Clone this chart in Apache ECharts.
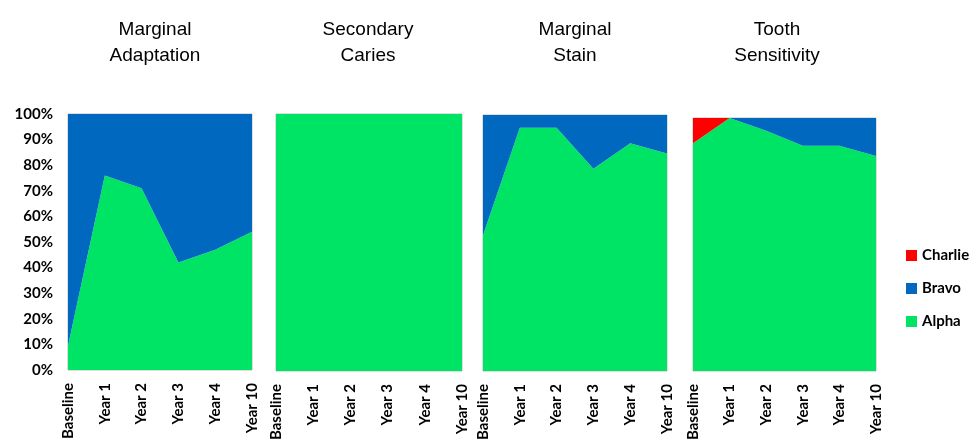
<!DOCTYPE html>
<html>
<head>
<meta charset="utf-8">
<script src="https://cdn.jsdelivr.net/npm/echarts@6/dist/echarts.min.js"></script>
<style>
  html, body { margin: 0; padding: 0; background: #fff; }
  #chart { width: 973px; height: 443px; }
</style>
</head>
<body>
<div id="chart"></div>
<script>
// Follow-up visits shown on every panel
const categories = ['Baseline', 'Year 1', 'Year 2', 'Year 3', 'Year 4', 'Year 10'];
const yTicks = [0, 10, 20, 30, 40, 50, 60, 70, 80, 90, 100];

const panelTitles = ['Marginal\nAdaptation', 'Secondary\nCaries', 'Marginal\nStain', 'Tooth\nSensitivity'];

// Percentage of restorations rated Alpha / Bravo / Charlie
const adaptationAlpha   = [9.5, 76, 71, 42, 47, 54];
const adaptationBravo   = [90.5, 24, 29, 58, 53, 46];
const adaptationCharlie = [0, 0, 0, 0, 0, 0];

const cariesAlpha   = [100, 100, 100, 100, 100, 100];
const cariesBravo   = [0, 0, 0, 0, 0, 0];
const cariesCharlie = [0, 0, 0, 0, 0, 0];

const stainAlpha   = [53, 95, 95, 79, 89, 85];
const stainBravo   = [47, 5, 5, 21, 11, 15];
const stainCharlie = [0, 0, 0, 0, 0, 0];

const sensitivityAlpha   = [90, 100, 95, 89, 89, 85];
const sensitivityBravo   = [0, 0, 5, 11, 11, 15];
const sensitivityCharlie = [10, 0, 0, 0, 0, 0];

const panels = [
  { alpha: adaptationAlpha,  bravo: adaptationBravo,  charlie: adaptationCharlie },
  { alpha: cariesAlpha,      bravo: cariesBravo,      charlie: cariesCharlie },
  { alpha: stainAlpha,       bravo: stainBravo,       charlie: stainCharlie },
  { alpha: sensitivityAlpha, bravo: sensitivityBravo, charlie: sensitivityCharlie }
];

const COLORS = { Alpha: '#00E466', Bravo: '#0068BE', Charlie: '#FF0000' };

// Plot boxes for the four small multiples
const boxes = [
  { left: 68,  top: 114, width: 184, height: 256 },
  { left: 276, top: 114, width: 186, height: 259 },
  { left: 483, top: 115, width: 184, height: 256 },
  { left: 693, top: 118, width: 183, height: 255 }
];
const titleCenters = [150, 363, 570, 772];

const labelFont = { fontFamily: 'Lato', fontWeight: 'bold', fontSize: 15, color: '#000' };

const grids = [], xAxes = [], yAxes = [], series = [], titles = [];

panels.forEach((p, i) => {
  grids.push(Object.assign({
    show: true,
    backgroundColor: 'transparent',
    borderColor: '#BDBDBD',
    borderWidth: 1
  }, boxes[i]));

  titles.push({
    text: panelTitles[i],
    left: titleCenters[i],
    top: 12,
    textAlign: 'center',
    textStyle: {
      fontFamily: 'Liberation Sans',
      fontWeight: 'normal',
      fontSize: 19,
      lineHeight: 26,
      color: '#000'
    }
  });

  xAxes.push({
    type: 'category',
    gridIndex: i,
    data: categories,
    boundaryGap: false,
    axisLine: { show: false },
    axisTick: { show: false },
    splitLine: { show: false },
    axisLabel: Object.assign({ rotate: 90, margin: 13, interval: 0 }, labelFont)
  });

  yAxes.push({
    type: 'value',
    gridIndex: i,
    min: yTicks[0],
    max: yTicks[yTicks.length - 1],
    interval: 10,
    axisLine: { show: false },
    axisTick: { show: false },
    splitLine: { show: false },
    axisLabel: Object.assign({
      show: i === 0,
      margin: 15,
      formatter: '{value}%'
    }, labelFont)
  });

  [['Alpha', p.alpha], ['Bravo', p.bravo], ['Charlie', p.charlie]].forEach(([name, values]) => {
    series.push({
      name: name,
      type: 'line',
      xAxisIndex: i,
      yAxisIndex: i,
      stack: 'panel' + i,
      data: values,
      symbol: 'none',
      smooth: false,
      lineStyle: { width: 0, opacity: 0 },
      areaStyle: { color: COLORS[name], opacity: 1 },
      itemStyle: { color: COLORS[name] },
      emphasis: { disabled: true },
      animation: false
    });
  });
});

const chart = echarts.init(document.getElementById('chart'), null, { renderer: 'canvas' });
chart.setOption({
  animation: false,
  title: titles,
  grid: grids,
  xAxis: xAxes,
  yAxis: yAxes,
  legend: {
    orient: 'vertical',
    left: 906,
    top: 248,
    padding: 0,
    itemWidth: 11,
    itemHeight: 11,
    itemGap: 18,
    icon: 'rect',
    data: ['Charlie', 'Bravo', 'Alpha'],
    textStyle: { fontFamily: 'Lato', fontWeight: 'bold', fontSize: 15, color: '#000' }
  },
  series: series
});
</script>
</body>
</html>
